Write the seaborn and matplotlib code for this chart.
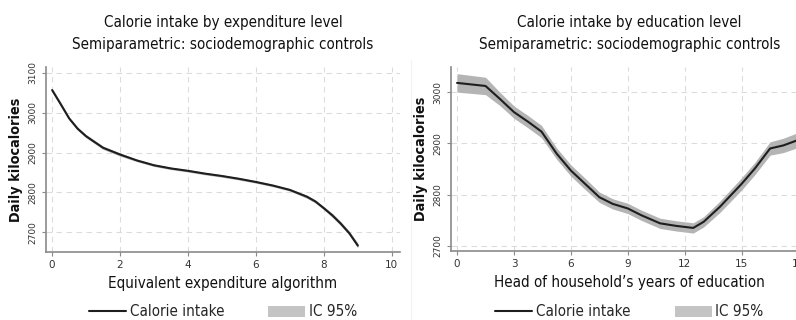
import numpy as np
import pandas as pd
import matplotlib
matplotlib.use("Agg")
import matplotlib.pyplot as plt
import seaborn as sns
from matplotlib import font_manager
from matplotlib.font_manager import FontProperties
from matplotlib.lines import Line2D
from matplotlib.patches import Patch

# Data
exp_x = [0, 0.25, 0.5, 0.75, 1, 1.5, 2, 2.5, 3, 3.5, 4, 4.5, 5, 5.5, 6, 6.5, 7,
         7.5, 7.75, 8, 8.25, 8.5, 8.75, 9]
exp_y = [3057, 3022, 2986, 2960, 2941, 2912, 2895, 2880, 2868, 2860, 2854, 2847,
         2841, 2834, 2826, 2817, 2806, 2789, 2777, 2760, 2742, 2721, 2697, 2666]
exp_ci = [5, 5, 4, 4, 4, 4, 4, 3, 3, 3, 3, 3, 3, 3, 3, 3, 3, 4, 4, 4, 5, 5, 5, 6]

edu_x = [0, 1.5, 2.25, 3, 3.75, 4.45, 5.25, 6, 6.75, 7.5, 8.2, 9, 9.7, 10.7,
         11.55, 12.45, 13, 13.85, 15, 15.7, 16.5, 17.2, 18.6]
edu_y = [3018, 3012, 2987, 2961, 2942, 2923, 2880, 2847, 2821, 2795, 2782, 2773,
         2760, 2744, 2739, 2735, 2747, 2776, 2821, 2851, 2890, 2896, 2915]
edu_ci = [18, 17, 13, 12, 12, 12, 11, 11, 11, 10, 10, 10, 10, 10,
          10, 10, 10, 11, 12, 12, 13, 14, 15]

titles = ["Calorie intake by expenditure level", "Calorie intake by education level"]
subtitle = "Semiparametric: sociodemographic controls"
xlabels = ["Equivalent expenditure algorithm", "Head of household\u2019s years of education"]
ylabel = "Daily kilocalories"
legend_labels = ["Calorie intake", "IC 95%"]

sns.set_style("white")
plt.rcParams["font.family"] = ["DejaVu Sans"]

# the reference uses a condensed face, DejaVu Sans Condensed is the closest here
fonts = font_manager.fontManager.ttflist
def find_font(key):
    hits = [f.fname for f in fonts if key in f.fname]
    return hits[0] if hits else None

narrow = find_font("DejaVuSansCondensed.")
narrow_bold = find_font("DejaVuSansCondensed-Bold.")

def fprop(bold=False, **kw):
    path = narrow_bold if bold else narrow
    if path:
        return FontProperties(fname=path, **kw)
    return FontProperties(family="DejaVu Sans", weight="bold" if bold else "normal", **kw)

W, H = 796, 320
fig = plt.figure(figsize=(W / 100, H / 100), dpi=100)
renderer = fig.canvas.get_renderer()

def fit_size(text, target_px, bold=False):
    fp = fprop(bold=bold, size=10)
    w, _, _ = renderer.get_text_width_height_descent(text, fp, ismath=False)
    return 10 * target_px / w

# the narrow reference face is taller for the same width, so enlarge a bit
base_fs = fit_size(subtitle, 247) * 1.22
fs_px = base_fs * 100 / 72

line_col = "#1e1e1e"
band_col = "#b4b4b4"
spine_col = "#8a8a8a"

# axes positions in pixels: left, right, bottom, top
boxes = [(46, 400, 252, 67), (451, 808, 251, 67)]

panels = [
    (exp_x, exp_y, exp_ci, (-0.18, 10.24), (2650, 3115), np.arange(0, 11, 2), np.arange(2700, 3101, 100)),
    (edu_x, edu_y, edu_ci, (-0.32, 18.5), (2690, 3049), np.arange(0, 19, 3), np.arange(2700, 3001, 100)),
]

for i, (x, y, ci, xl, yl, xt, yt) in enumerate(panels):
    l, r, b, t = boxes[i]
    ax = fig.add_axes([l / W, 1 - b / H, (r - l) / W, (b - t) / H])
    df = pd.DataFrame({"x": x, "y": y, "ci": ci})
    ax.fill_between(df["x"], df["y"] - df["ci"], df["y"] + df["ci"],
                    color=band_col, lw=0, zorder=1)
    sns.lineplot(data=df, x="x", y="y", ax=ax, color=line_col, lw=1.5, zorder=2)
    ax.set_xlim(*xl)
    ax.set_ylim(*yl)
    ax.set_xticks(xt)
    ax.set_yticks(yt)
    ax.grid(True, ls=(0, (5, 4)), color="#dcdcdc", lw=0.8)
    for s in ["top", "right"]:
        ax.spines[s].set_visible(False)
    for s in ["left", "bottom"]:
        ax.spines[s].set_color(spine_col)
        ax.spines[s].set_linewidth(1.2)
    ax.tick_params(axis="both", direction="out", length=3, color=spine_col,
                   labelcolor="#333333", left=True, bottom=True)
    ax.tick_params(axis="x", labelsize=7.5, pad=3)
    ax.tick_params(axis="y", labelsize=6.5, pad=3)
    for lab in ax.get_yticklabels():
        lab.set_rotation(90)
        lab.set_va("center")
    ax.set_xlabel(xlabels[i], fontproperties=fprop(size=base_fs), labelpad=4, color="#111111")
    ax.set_ylabel(ylabel, fontproperties=fprop(bold=True, size=base_fs * 0.95),
                  labelpad=4, color="#111111")

    # titles centred above each panel
    cx = (l + r) / 2 / W
    fig.text(cx, 1 - 23 / H, titles[i], ha="center", va="center",
             fontproperties=fprop(size=base_fs), color="#111111")
    fig.text(cx, 1 - 44 / H, subtitle, ha="center", va="center",
             fontproperties=fprop(size=base_fs), color="#111111")

    handles = [Line2D([], [], color=line_col, lw=1.5),
               Patch(facecolor="#c4c4c4", edgecolor="none")]
    fig.legend(handles, legend_labels, loc="center",
               bbox_to_anchor=(cx, 1 - 312 / H), ncol=2, frameon=False,
               prop=fprop(size=base_fs), handlelength=37 / fs_px,
               handletextpad=0.25, columnspacing=44 / fs_px, borderpad=0)

# faint separator between the two panels
fig.add_artist(Line2D([411 / W, 411 / W], [0, 1 - 60 / H], color="#f2f2f2", lw=0.8))

fig.savefig("out.png", dpi=100)
